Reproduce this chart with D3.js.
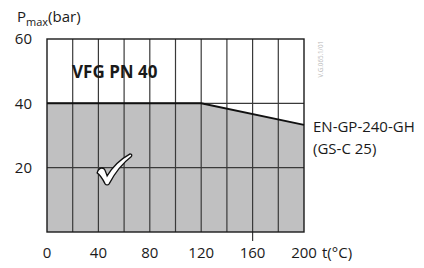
<!DOCTYPE html>
<html>
<head>
<meta charset="utf-8">
<script src="https://cdn.jsdelivr.net/npm/d3@7"></script>
<style>
  body { margin: 0; background: #fff; }
  text { font-family: "Open Sans", "Noto Sans", sans-serif; fill: #1a1a1a; }
</style>
</head>
<body>
<svg id="chart" width="424" height="268"></svg>
<script>
// pressure / temperature rating curve
var temps = [0, 120, 200];
var pressures = [40, 40, 33.3];
var xTicks = [0, 40, 80, 120, 160, 200];
var yTicks = [20, 40, 60];
var xGrid = d3.range(20, 200, 20);

var svg = d3.select("#chart"),
  margin = {top: 39, right: 120, bottom: 36, left: 47},
  width = +svg.attr("width") - margin.left - margin.right,
  height = +svg.attr("height") - margin.top - margin.bottom,
  g = svg.append("g").attr("transform", "translate(" + margin.left + "," + margin.top + ")");

var x = d3.scaleLinear().domain([0, 200]).range([0, width]);
var y = d3.scaleLinear().domain([0, 60]).range([height, 0]);

var pts = temps.map(function(t, i) { return [t, pressures[i]]; });

// shaded area under the curve
g.append("path")
  .datum(pts)
  .attr("fill", "#c0c0c1")
  .attr("d", d3.area()
    .x(function(d) { return x(d[0]); })
    .y0(y(0))
    .y1(function(d) { return y(d[1]); }));

// vertical grid
g.selectAll(".vgrid")
  .data(xGrid)
  .enter().append("line")
  .attr("x1", function(d) { return x(d); })
  .attr("x2", function(d) { return x(d); })
  .attr("y1", 0)
  .attr("y2", height)
  .attr("stroke", "#3a3a3a")
  .attr("stroke-width", 1.2);

// small tick below 160
g.append("line")
  .attr("x1", x(160)).attr("x2", x(160))
  .attr("y1", height).attr("y2", height + 9)
  .attr("stroke", "#3a3a3a")
  .attr("stroke-width", 1.2);

// horizontal grid
g.selectAll(".hgrid")
  .data([20, 40])
  .enter().append("line")
  .attr("x1", 0)
  .attr("x2", width)
  .attr("y1", function(d) { return y(d); })
  .attr("y2", function(d) { return y(d); })
  .attr("stroke", "#3a3a3a")
  .attr("stroke-width", 1.2);

// frame
g.append("rect")
  .attr("width", width)
  .attr("height", height)
  .attr("fill", "none")
  .attr("stroke", "#1a1a1a")
  .attr("stroke-width", 1.4);

// rating line
g.append("path")
  .datum(pts)
  .attr("fill", "none")
  .attr("stroke", "#111")
  .attr("stroke-width", 2)
  .attr("d", d3.line()
    .x(function(d) { return x(d[0]); })
    .y(function(d) { return y(d[1]); }));

// tick labels
g.selectAll(".xlab")
  .data(xTicks)
  .enter().append("text")
  .attr("x", function(d) { return x(d); })
  .attr("y", height + 26)
  .attr("text-anchor", "middle")
  .style("font-size", "15px")
  .text(function(d) { return d; });

g.selectAll(".ylab")
  .data(yTicks)
  .enter().append("text")
  .attr("x", -15)
  .attr("y", function(d) { return y(d); })
  .attr("dy", "0.35em")
  .attr("text-anchor", "end")
  .style("font-size", "15px")
  .text(function(d) { return d; });

// axis titles
var yt = svg.append("text")
  .attr("x", 17)
  .attr("y", 22)
  .style("font-size", "15px");
yt.append("tspan").text("P");
yt.append("tspan").attr("dy", 4).style("font-size", "11px").text("max");
yt.append("tspan").attr("dy", -4).text("(bar)");

g.append("text")
  .attr("x", x(200) + 18)
  .attr("y", height + 26)
  .style("font-size", "15px")
  .text("t(°C)");

// labels
g.append("text")
  .attr("x", x(19.5))
  .attr("y", y(48))
  .style("font-size", "17px")
  .style("font-weight", "bold")
  .text("VFG PN 40");

g.append("text")
  .attr("x", x(200) + 9)
  .attr("y", y(33.3) + 7)
  .style("font-size", "15px")
  .text("EN-GP-240-GH");

g.append("text")
  .attr("x", x(200) + 9)
  .attr("y", y(33.3) + 29)
  .style("font-size", "15px")
  .text("(GS-C 25)");

g.append("text")
  .attr("transform", "translate(" + (x(200) + 19) + "," + y(48) + ") rotate(-90)")
  .style("font-size", "6.2px")
  .style("fill", "#b8b8b8")
  .text("V.G.065.1/01");

// check mark
g.append("path")
  .attr("transform", "translate(" + x(39) + "," + y(24.3) + ")")
  .attr("d", "M0,19 C1,15 4,13 7,15 C8,16 9,19 10,22 C16,12 24,5 33,0 C35,0 35,2 34,3 C26,9 18,19 12,30 C11,31.5 9,31.5 8,30 C6,26 3,21 0,19 Z")
  .attr("fill", "#fff")
  .attr("stroke", "#111")
  .attr("stroke-width", 1.3);
</script>
</body>
</html>
